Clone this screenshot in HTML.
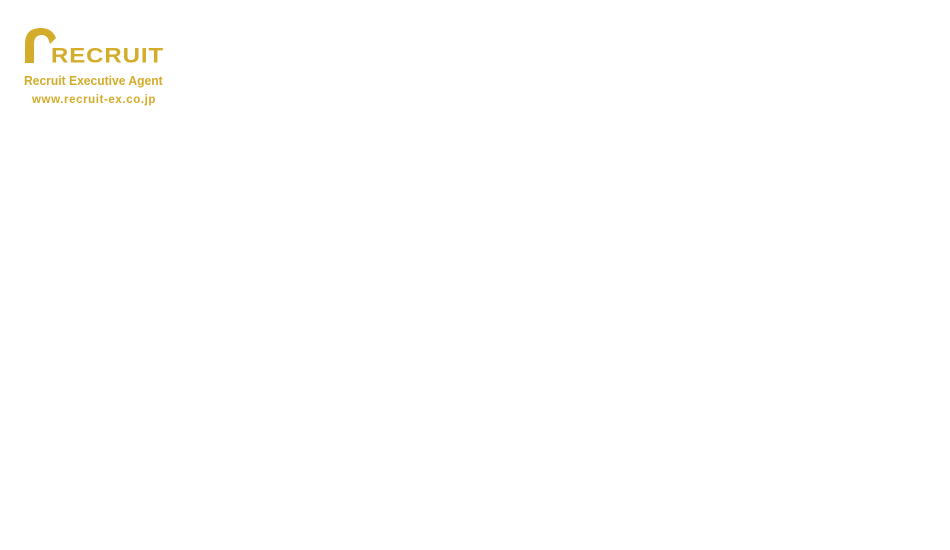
<!DOCTYPE html>
<html><head><meta charset="utf-8"><style>
html,body{margin:0;padding:0;background:#fff;width:950px;height:550px;overflow:hidden;position:relative;font-family:"Liberation Sans",sans-serif;color:#d4ac2b}
.t{position:absolute;white-space:nowrap;font-weight:bold}
</style></head><body>
<svg style="position:absolute;left:0;top:0" width="200" height="120">
<path d="M25 63 L25 44 Q25 28 41 28 Q52 28 56 38 L50 44 Q48 35 42 35 Q34 35 34 44 L34 63 Z" fill="#d4ac2b"/>
</svg>
<div class="t" style="left:51px;top:42px;font-size:24px;line-height:26px;letter-spacing:0.9px;transform:scaleY(0.9);transform-origin:0 100%">RECRUIT</div>
<div class="t" style="left:24px;top:73px;font-size:13px;line-height:15px;transform:scaleX(0.93);transform-origin:0 0">Recruit Executive Agent</div>
<div class="t" style="left:32px;top:94px;font-size:11.5px;line-height:13px;letter-spacing:0.6px">www.recruit-ex.co.jp</div>
</body></html>
